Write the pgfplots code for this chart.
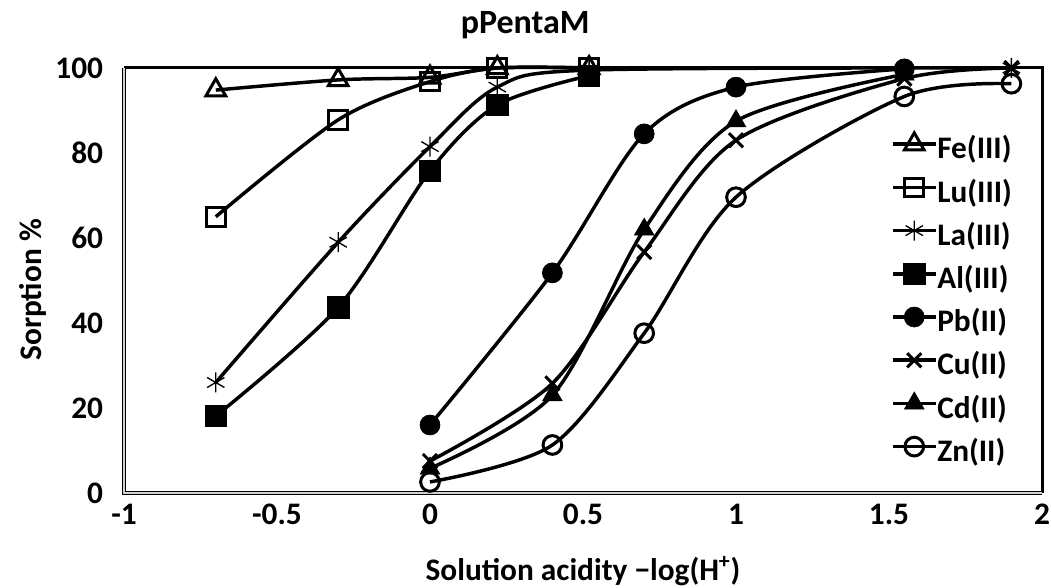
\documentclass[border=0pt]{standalone}
\usepackage{fontspec}
\setmainfont{Carlito}
\usepackage{pgfplots}
\pgfplotsset{compat=1.18}
\begin{document}
\begin{tikzpicture}
\begin{axis}[
  at={(0,0)}, anchor=south west,
  scale only axis, width=688.5pt, height=318.75pt,
  xmin=-1, xmax=2, ymin=0, ymax=100,
  clip=false,
  xtick={-1,-0.5,0,0.5,1,1.5,2},
  xticklabels={-1,-0.5,0,0.5,1,1.5,2},
  ytick={0,20,40,60,80,100},
  yticklabels={0,20,40,60,80,100},
  tick style={draw=none},
  axis line style={draw=none},
  ticklabel style={font=\fontsize{23.5}{28}\selectfont\bfseries, inner sep=0pt},
  xticklabel style={anchor=base, yshift=-24pt},
  yticklabel style={anchor=east, xshift=-15.5pt},
  title={pPentaM},
  title style={at={(rel axis cs:0.437,1.0612)}, anchor=base, font=\fontsize{25.5}{30}\selectfont\bfseries, inner sep=0pt},
  xlabel={Solution acidity −log(H\textsuperscript{+})},
  xlabel style={at={(rel axis cs:0.5,-0.207)}, anchor=base, font=\fontsize{23.5}{28}\selectfont\bfseries, inner sep=0pt},
  ylabel={Sorption \%},
  ylabel style={at={(rel axis cs:-0.0991,0.478)}, anchor=center, font=\fontsize{23.5}{28}\selectfont\bfseries, inner sep=0pt},
  legend style={draw=none, fill=none, at={(rel axis cs:0.8377,0.8464)}, anchor=north west,
    font=\fontsize{23.5}{28}\selectfont\bfseries, row sep=8.4pt, column sep=1.5pt, inner sep=0pt,
    nodes={text height=17pt, text depth=5pt, inner sep=0pt}},
  legend cell align=left,
  legend image code/.code={\path[use as bounding box, draw=none, fill=none] (0pt,0pt) rectangle (31.5pt,13pt);
    \draw[mark repeat=2,mark phase=2,#1] plot coordinates {(0pt,5pt) (15.75pt,5pt) (31.5pt,5pt)};},
  every axis plot/.append style={black, line width=2.6pt, smooth},
]
% Fe(III)
\addplot[mark=triangle, mark size=8.5pt, mark options={solid, line width=2.25pt}] coordinates {
(-0.7,94.8) (-0.3,97.2) (0,97.8) (0.22,100) (0.52,100)};
\addlegendentry{Fe(III)}
% Lu(III)
\addplot[mark=square, mark size=7pt, mark options={solid, line width=2.25pt}] coordinates {
(-0.7,65) (-0.3,87.8) (0,96.8) (0.22,100) (0.52,100)};
\addlegendentry{Lu(III)}
% La(III)
\addplot[mark=asterisk, mark size=7.5pt, mark options={solid, line width=1pt}] coordinates {
(-0.7,26) (-0.3,59) (0,81.5) (0.22,95.5) (0.52,99.5) (1.9,100)};
\addlegendentry{La(III)}
% Al(III)
\addplot[mark=square*, mark size=8pt, mark options={solid, line width=0.5pt}] coordinates {
(-0.7,18.1) (-0.3,43.7) (0,75.8) (0.22,91.3) (0.52,98.2)};
\addlegendentry{Al(III)}
% Pb(II)
\addplot[mark=*, mark size=7.5pt, mark options={solid, line width=0.5pt}] coordinates {
(0,16) (0.4,51.8) (0.7,84.5) (1,95.5) (1.55,99.8)};
\addlegendentry{Pb(II)}
% Cu(II)
\addplot[mark=x, mark size=7.5pt, mark options={solid, line width=2.25pt}] coordinates {
(0,7.5) (0.4,25.8) (0.7,56.7) (1,83) (1.55,97.5) (1.9,100)};
\addlegendentry{Cu(II)}
% Cd(II)
\addplot[mark=triangle*, mark size=8.5pt, mark options={solid, line width=0.5pt}] coordinates {
(0,5.8) (0.4,23) (0.7,62) (1,87.5) (1.55,98.5)};
\addlegendentry{Cd(II)}
% Zn(II)
\addplot[mark=o, mark size=7pt, mark options={solid, line width=2.25pt}] coordinates {
(0,2.6) (0.4,11.3) (0.7,37.6) (1,69.6) (1.55,93.3) (1.9,96.3)};
\addlegendentry{Zn(II)}
% plot area border
\draw[black, line width=2.25pt] (rel axis cs:0,1) -- (rel axis cs:1,1) -- (rel axis cs:1,0);
\draw[black, line width=2.4pt] (rel axis cs:0,1) -- (rel axis cs:0,0) -- (rel axis cs:1,0);
\draw[gray!35, line width=0.9pt] (rel axis cs:0,1) -- (rel axis cs:0,0) -- (rel axis cs:1,0);
\end{axis}
\pgfresetboundingbox
\path[use as bounding box] (-93pt,-71.25pt) rectangle (695.25pt,369.75pt);
\end{tikzpicture}
\end{document}
